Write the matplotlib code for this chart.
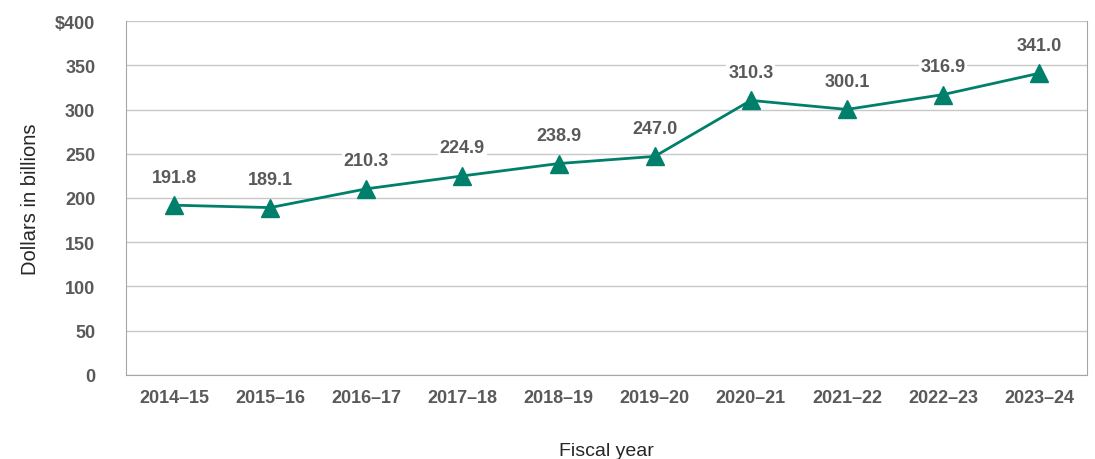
import matplotlib
matplotlib.use("Agg")
import matplotlib.pyplot as plt

years = ["2014\u201315", "2015\u201316", "2016\u201317", "2017\u201318", "2018\u201319",
         "2019\u201320", "2020\u201321", "2021\u201322", "2022\u201323", "2023\u201324"]
spending = [191.8, 189.1, 210.3, 224.9, 238.9, 247.0, 310.3, 300.1, 316.9, 341.0]
y_ticks = [0, 50, 100, 150, 200, 250, 300, 350, 400]
y_labels = ["0", "50", "100", "150", "200", "250", "300", "350", "$400"]

LINE = "#00806b"
TEXT = "#595959"

plt.rcParams["font.family"] = ["Liberation Sans Narrow", "Liberation Sans", "DejaVu Sans"]

fig = plt.figure(figsize=(10.95, 4.6), dpi=100)
ax = fig.add_axes([0.115, 0.183, 0.878, 0.769])

x = list(range(len(years)))
ax.plot(x, spending, color=LINE, linewidth=2, marker="^", markersize=13, zorder=3)

for xi, v in zip(x, spending):
    ax.annotate(f"{v:.1f}", (xi, v), xytext=(0, 14), textcoords="offset points",
                ha="center", va="bottom", fontsize=13, fontweight="bold", color=TEXT,
                bbox=dict(boxstyle="square,pad=0.1", fc="white", ec="none"), zorder=4)

ax.set_xlim(-0.5, len(years) - 0.5)
ax.set_ylim(0, 400)
ax.set_yticks(y_ticks)
ax.set_yticklabels(y_labels)
ax.set_xticks(x)
ax.set_xticklabels(years)
ax.tick_params(length=0, labelsize=13, labelcolor=TEXT, pad=10)
for lab in ax.get_xticklabels() + ax.get_yticklabels():
    lab.set_fontweight("bold")
ax.tick_params(axis="y", pad=22)

ax.grid(axis="y", color="#c8c8c8", linewidth=1)
ax.set_axisbelow(True)
for s in ax.spines.values():
    s.set_color("#a6a6a6")
ax.spines["top"].set_visible(False)

ax.set_ylabel("Dollars in billions", fontsize=14.5, color="#262626", labelpad=11)
ax.set_xlabel("Fiscal year", fontsize=14, color="#262626", labelpad=26)

fig.savefig("out.png", dpi=100)
